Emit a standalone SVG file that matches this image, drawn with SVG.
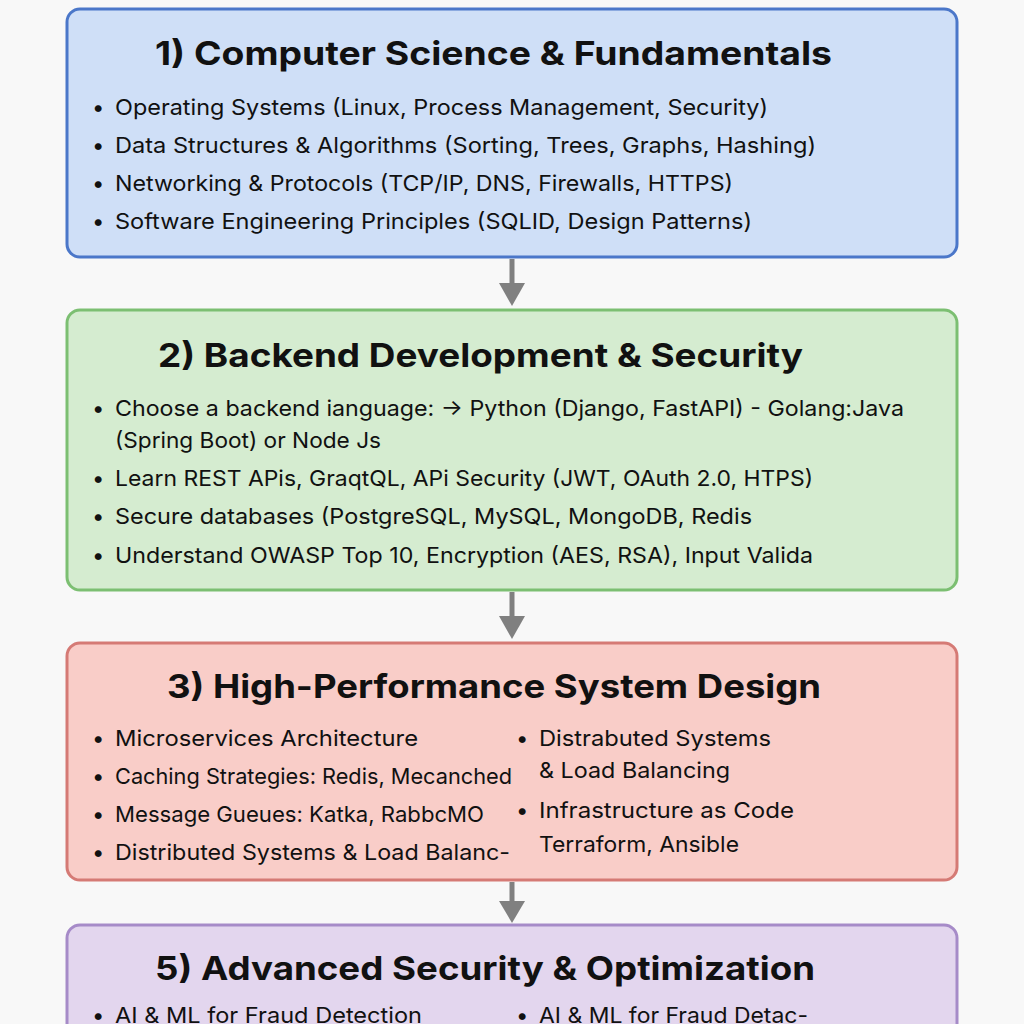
<svg xmlns="http://www.w3.org/2000/svg" width="1024" height="1024" viewBox="0 0 1024 1024">
<defs>
<style>
.t{font-family:Inter,"Noto Sans","Liberation Sans",sans-serif;font-weight:700;font-size:33px;fill:#111;}
.b{font-family:Inter,"Noto Sans","Liberation Sans",sans-serif;font-size:22px;fill:#111;}
.box{stroke-width:3;}
.con{stroke:#808080;stroke-width:5;fill:none;}
.head{fill:#808080;}
</style>
</defs>
<rect width="1024" height="1024" fill="#f8f8f8"/>
<g id="node1">
<rect class="box" x="67" y="9" width="890" height="248" rx="13" fill="#cfdff7" stroke="#4b77c9"/>
<text class="t" x="155" y="65" textLength="677" lengthAdjust="spacingAndGlyphs">1) Computer Science &amp; Fundamentals</text>
<text class="b" x="92" y="115">•</text><text class="b" x="115" y="115" textLength="653" lengthAdjust="spacingAndGlyphs">Operating Systems (Linux, Process Management, Security)</text>
<text class="b" x="92" y="153">•</text><text class="b" x="115" y="153" textLength="701" lengthAdjust="spacingAndGlyphs">Data Structures &amp; Algorithms (Sorting, Trees, Graphs, Hashing)</text>
<text class="b" x="92" y="191">•</text><text class="b" x="115" y="191" textLength="618" lengthAdjust="spacingAndGlyphs">Networking &amp; Protocols (TCP/IP, DNS, Firewalls, HTTPS)</text>
<text class="b" x="92" y="229">•</text><text class="b" x="115" y="229" textLength="637" lengthAdjust="spacingAndGlyphs">Software Engineering Principles (SQLID, Design Patterns)</text>
</g>
<g id="node2">
<rect class="box" x="67" y="310" width="890" height="280" rx="13" fill="#d5ecd0" stroke="#7cbf72"/>
<text class="t" x="158" y="367" textLength="645" lengthAdjust="spacingAndGlyphs">2) Backend Development &amp; Security</text>
<text class="b" x="92" y="416">•</text><text class="b" x="115" y="416" textLength="789" lengthAdjust="spacingAndGlyphs">Choose a backend ianguage: → Python (Django, FastAPI) - Golang:Java</text>
<text class="b" x="115" y="448" textLength="266" lengthAdjust="spacingAndGlyphs">(Spring Boot) or Node Js</text>
<text class="b" x="92" y="486">•</text><text class="b" x="115" y="486" textLength="698" lengthAdjust="spacingAndGlyphs">Learn REST APis, GraqtQL, APi Security (JWT, OAuth 2.0, HTPS)</text>
<text class="b" x="92" y="524">•</text><text class="b" x="115" y="524" textLength="637" lengthAdjust="spacingAndGlyphs">Secure databases (PostgreSQL, MySQL, MongoDB, Redis</text>
<text class="b" x="92" y="563">•</text><text class="b" x="115" y="563" textLength="698" lengthAdjust="spacingAndGlyphs">Understand OWASP Top 10, Encryption (AES, RSA), Input Valida</text>
</g>
<g id="node3">
<rect class="box" x="67" y="643" width="890" height="237" rx="13" fill="#f9cdc8" stroke="#d57a75"/>
<text class="t" x="167" y="698" textLength="654" lengthAdjust="spacingAndGlyphs">3) High-Performance System Design</text>
<text class="b" x="92" y="746">•</text><text class="b" x="115" y="746" textLength="303" lengthAdjust="spacingAndGlyphs">Microservices Architecture</text>
<text class="b" x="92" y="784">•</text><text class="b" x="115" y="784" textLength="397" lengthAdjust="spacingAndGlyphs">Caching Strategies: Redis, Mecanched</text>
<text class="b" x="92" y="822">•</text><text class="b" x="115" y="822" textLength="369" lengthAdjust="spacingAndGlyphs">Message Gueues: Katka, RabbcMO</text>
<text class="b" x="92" y="860">•</text><text class="b" x="115" y="860" textLength="395" lengthAdjust="spacingAndGlyphs">Distributed Systems &amp; Load Balanc-</text>
<text class="b" x="516" y="746">•</text><text class="b" x="539" y="746" textLength="232" lengthAdjust="spacingAndGlyphs">Distrabuted Systems</text>
<text class="b" x="539" y="778" textLength="191" lengthAdjust="spacingAndGlyphs">&amp; Load Balancing</text>
<text class="b" x="516" y="818">•</text><text class="b" x="539" y="818" textLength="255" lengthAdjust="spacingAndGlyphs">Infrastructure as Code</text>
<text class="b" x="539" y="852" textLength="200" lengthAdjust="spacingAndGlyphs">Terraform, Ansible</text>
</g>
<g id="node5">
<rect class="box" x="67" y="925" width="890" height="120" rx="13" fill="#e3d6ee" stroke="#a68bc8"/>
<text class="t" x="155" y="980" textLength="660" lengthAdjust="spacingAndGlyphs">5) Advanced Security &amp; Optimization</text>
<text class="b" x="92" y="1023">•</text><text class="b" x="115" y="1023" textLength="307" lengthAdjust="spacingAndGlyphs">AI &amp; ML for Fraud Detection</text>
<text class="b" x="516" y="1023">•</text><text class="b" x="539" y="1023" textLength="269" lengthAdjust="spacingAndGlyphs">AI &amp; ML for Fraud Detac-</text>
</g>
<g id="connectors">
<line class="con" x1="512" y1="259" x2="512" y2="286"/>
<polygon class="head" points="499,283 525,283 512,306"/>
<line class="con" x1="512" y1="592" x2="512" y2="619"/>
<polygon class="head" points="499,616 525,616 512,639"/>
<line class="con" x1="512" y1="882" x2="512" y2="904"/>
<polygon class="head" points="499,901 525,901 512,923"/>
</g>
</svg>
